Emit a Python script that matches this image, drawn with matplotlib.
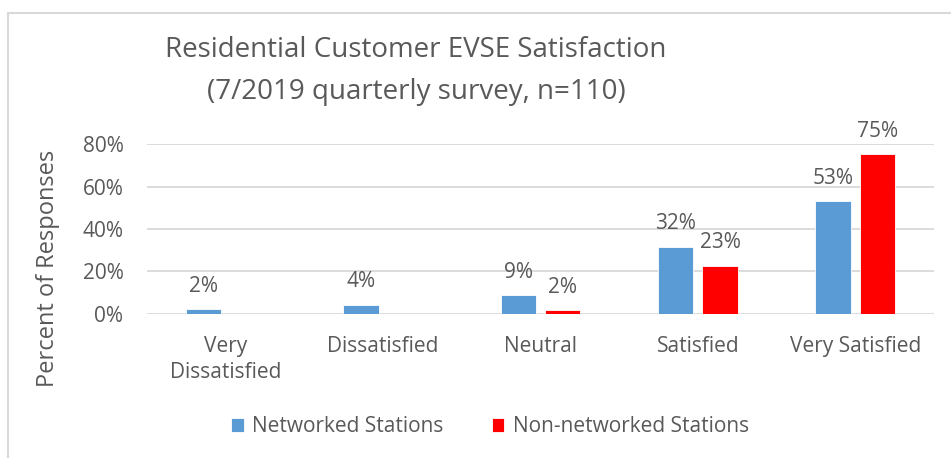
import matplotlib
matplotlib.use("Agg")
import matplotlib.pyplot as plt
import numpy as np
from matplotlib.patches import Rectangle

categories = ["Very\nDissatisfied", "Dissatisfied", "Neutral", "Satisfied", "Very Satisfied"]
networked = [1.9, 4.1, 8.6, 31.7, 53.2]
non_networked = [0, 0, 1.6, 22.7, 75.3]
series_names = ["Networked Stations", "Non-networked Stations"]
yticks = [0, 20, 40, 60, 80]
title_lines = ["Residential Customer EVSE Satisfaction", "(7/2019 quarterly survey, n=110)"]
ylabel = "Percent of Responses"

BLUE = "#5B9BD5"
RED = "#FF0000"
TXT = "#595959"
GRID = "#D9D9D9"

plt.rcParams['font.family'] = ['Open Sans', 'DejaVu Sans']
FS = 15

fig = plt.figure(figsize=(9.51, 4.58), dpi=100)
ax = fig.add_axes([147/951, 1-313.5/458, (934-147)/951, (313.5-144.5)/458])

x = np.arange(len(categories))
w = 0.225
gap = 0.057
off = (w + gap) / 2
b1 = ax.bar(x - off, networked, w, color=BLUE, edgecolor="white", linewidth=0.6, label=series_names[0], zorder=3)
b2 = ax.bar(x + off, non_networked, w, color=RED, edgecolor="white", linewidth=0.6, label=series_names[1], zorder=3)

for bars, vals in ((b1, networked), (b2, non_networked)):
    for rect, v in zip(bars, vals):
        if v <= 0:
            continue
        ax.annotate(f"{v:.0f}%", (rect.get_x() + rect.get_width()/2, v),
                    xytext=(0, 12.5), textcoords="offset points",
                    ha="center", va="baseline", fontsize=FS, color=TXT,
                    annotation_clip=False)

ax.set_xlim(-0.5, len(categories) - 0.5)
ax.set_ylim(0, 80)
ax.set_yticks(yticks)
ax.set_yticklabels([f"{t}%" for t in yticks], fontsize=FS, color=TXT)
ax.set_xticks(x)
ax.set_xticklabels(categories, fontsize=FS, color=TXT, linespacing=1.3)
ax.tick_params(axis="both", length=0)
ax.tick_params(axis="x", pad=16)
ax.tick_params(axis="y", pad=17)
ax.grid(axis="y", color=GRID, linewidth=1.3, zorder=0)
for s in ax.spines.values():
    s.set_visible(False)
ax.set_ylabel(ylabel, fontsize=17, color=TXT)
ax.yaxis.set_label_coords(-(147-60)/787, 0.5 - (268-229)/169)

fig.text(416/951, 1-50/458, title_lines[0], ha="center", va="center", fontsize=20, color=TXT)
fig.text(416/951, 1-92/458, title_lines[1], ha="center", va="center", fontsize=20, color=TXT)

leg = fig.legend(handles=[b1, b2], labels=series_names, loc="center", bbox_to_anchor=(490/951, 1-427/458),
                 ncol=2, frameon=False, fontsize=FS, handlelength=0.62, handleheight=0.62,
                 handletextpad=0.4, columnspacing=2.3)
for t in leg.get_texts():
    t.set_color(TXT)

fig.patches.append(Rectangle((8/951, -0.1), 1.2, 1-13.5/458+0.1, transform=fig.transFigure,
                             fill=False, edgecolor="#D9D9D9", linewidth=1.5, zorder=10))

fig.savefig("out.png", dpi=100)
